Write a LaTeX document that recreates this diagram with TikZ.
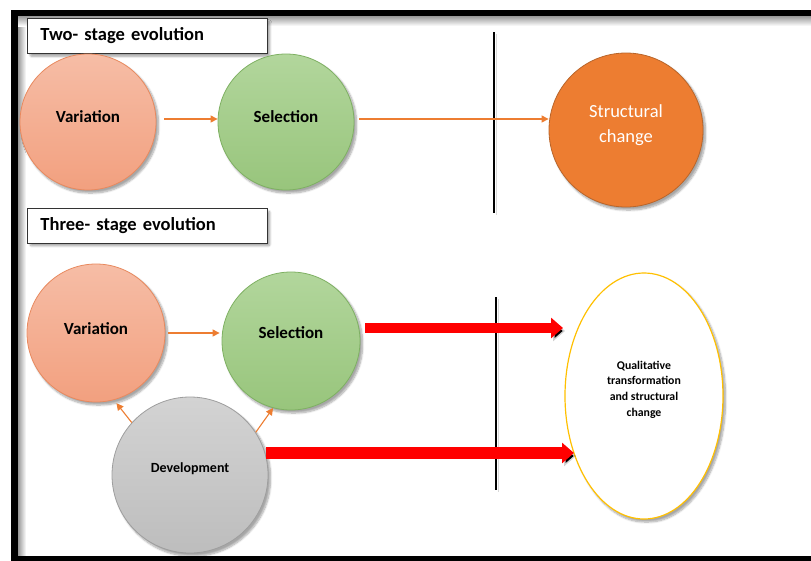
\documentclass[tikz,border=0pt]{standalone}
\usepackage{fontspec}
\setmainfont{Carlito}
\usetikzlibrary{arrows.meta,shapes.geometric,shadows.blur}

\definecolor{varTop}{HTML}{F6BDA6}
\definecolor{varBot}{HTML}{F2A07F}
\definecolor{varLine}{HTML}{E8895E}
\definecolor{selTop}{HTML}{B2D69C}
\definecolor{selBot}{HTML}{98C57C}
\definecolor{selLine}{HTML}{7EB062}
\definecolor{devTop}{HTML}{D3D3D3}
\definecolor{devBot}{HTML}{BDBDBD}
\definecolor{devLine}{HTML}{9E9E9E}
\definecolor{strFill}{HTML}{ED7D31}
\definecolor{strLine}{HTML}{B9652A}
\definecolor{ellLine}{HTML}{FFC000}
\definecolor{flow}{HTML}{ED7D31}
\definecolor{bigRed}{HTML}{FF0000}

\tikzset{
  soft/.style={blur shadow={shadow xshift=2.5pt, shadow yshift=-3pt,
      shadow blur steps=8, shadow blur extra rounding=2pt, shadow opacity=35}},
  % text depth lifts the label a little above the shape's centre
  stage/.style={circle, minimum size=#1, inner sep=0pt, line width=0.8pt,
      soft, text depth=11pt, font=\bfseries\fontsize{17}{19}\selectfont},
  variation/.style={stage=#1, draw=varLine, top color=varTop, bottom color=varBot},
  selection/.style={stage=#1, draw=selLine, top color=selTop, bottom color=selBot},
  titlebox/.style={draw=black!80, line width=0.9pt, fill=white, soft,
      minimum width=240pt, minimum height=35pt, text width=214pt,
      inner xsep=13pt, align=left, anchor=north west,
      font=\bfseries\fontsize{18.5}{20}\selectfont},
  flowarrow/.style={draw=flow, line width=1.1pt,
      -{Triangle[length=7pt,width=7pt]}},
  bigarrow/.style={draw=bigRed, line width=#1,
      -{Triangle[length=12pt,width=20pt]},
      preaction={draw=black, draw opacity=0.18,
        transform canvas={xshift=2pt,yshift=-3pt}}},
  divider/.style={draw=black, line width=1.8pt,
      preaction={draw=black, draw opacity=0.15,
        transform canvas={xshift=2.5pt,yshift=-2pt}}},
}

\begin{document}
\begin{tikzpicture}[x=1pt,y=-1pt]
  \useasboundingbox (0,0) rectangle (811,560);
  \clip (0,0) rectangle (811,560);

  % inner shading along the frame
  \shade[left color=black!40, right color=white] (18,16) rectangle (26,560);
  \shade[top color=black!40, bottom color=white] (18,16) rectangle (811,26);

  % outer frame
  \draw[line width=6.5pt] (14.5,13) rectangle (900,559.5);

  % ---- two-stage evolution ----
  \node[titlebox] (t1) at (27,18) {Two- stage evolution};
  \node[variation=136pt] (var1) at (88,122) {Variation};
  \node[selection=136pt] (sel1) at (286,122) {Selection};
  \node[stage=154pt, draw=strLine, fill=strFill, text=white, text depth=13pt,
        font=\fontsize{18.5}{25}\selectfont, align=center]
        (str) at (626,130) {Structural\\change};
  \coordinate (cut1a) at (494,32);
  \coordinate (cut1b) at (494,213);
  \draw[divider] (cut1a) -- (cut1b);

  \draw[flowarrow, shorten <=8pt] ([yshift=3pt]var1.east) -- ([yshift=3pt]sel1.west);
  \draw[flowarrow, shorten <=5pt] ([yshift=3pt]sel1.east) -- ([yshift=3pt]sel1.east -| str.west);

  % ---- three-stage evolution ----
  \node[titlebox] (t2) at (27,207.5) {Three- stage evolution};
  \node[variation=138pt, text depth=8pt] (var2) at (96,333) {Variation};
  \node[selection=138pt, text depth=16pt] (sel2) at (291,341) {Selection};
  \node[stage=156pt, draw=devLine, top color=devTop, bottom color=devBot,
        text depth=14pt, font=\bfseries\fontsize{14}{16}\selectfont]
        (dev) at (190,475) {Development};
  \node[ellipse, draw=ellLine, line width=1.2pt, fill=white, soft,
        minimum width=158pt, minimum height=246pt, inner sep=0pt,
        text depth=15pt, align=center,
        font=\bfseries\fontsize{11.8}{15.6}\selectfont]
        (qual) at (644,396) {Qualitative\\transformation\\and structural\\change};
  \coordinate (cut2a) at (496,297);
  \coordinate (cut2b) at (496,490);
  \draw[divider] (cut2a) -- (cut2b);

  \draw[flowarrow, shorten <=3pt, shorten >=2pt] (var2.east) -- (var2.east -| sel2.west);
  \draw[flowarrow, shorten >=4pt] (dev.138) -- (var2.285);
  \draw[flowarrow] (dev.33) -- (sel2.255);

  \coordinate (tipA) at (563,328);
  \coordinate (tipB) at (574,453);
  \draw[bigarrow=10pt, shorten <=5pt] (sel2.east |- tipA) -- (tipA);
  \draw[bigarrow=12.5pt, shorten <=-2pt] (dev.east |- tipB) -- (tipB);
\end{tikzpicture}
\end{document}
